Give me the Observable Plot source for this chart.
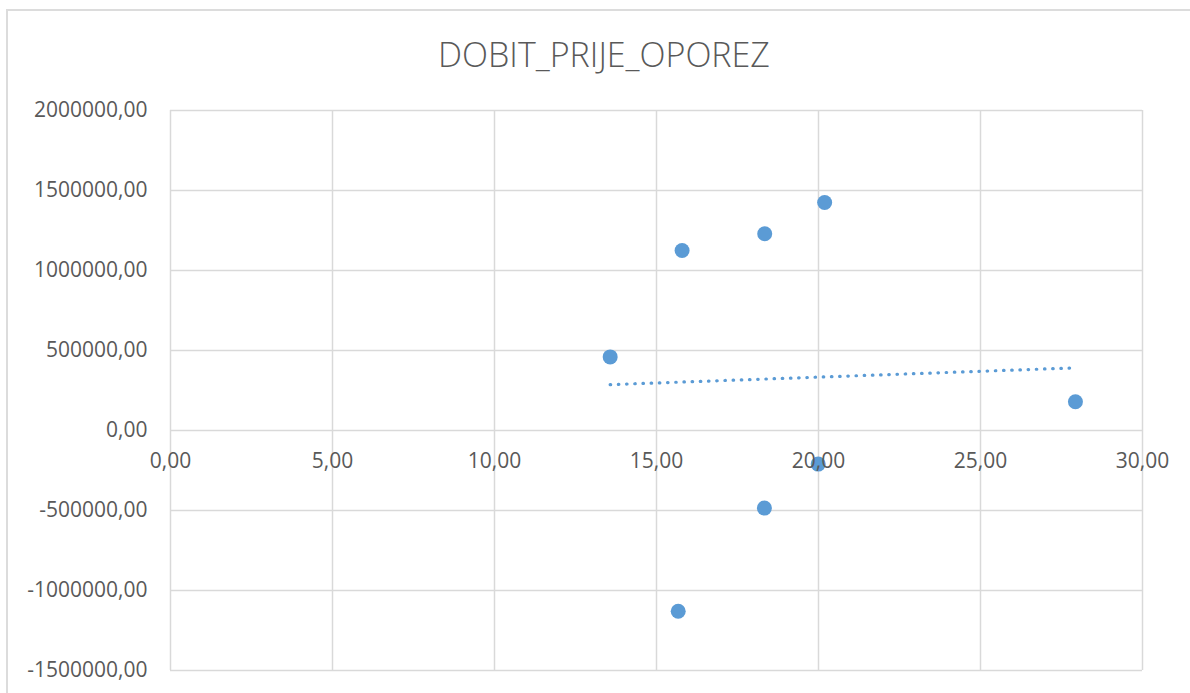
<!DOCTYPE html>
<html>
<head>
<meta charset="utf-8">
<script src="https://cdn.jsdelivr.net/npm/d3@7"></script>
<script src="https://cdn.jsdelivr.net/npm/@observablehq/plot@0.6"></script>
<style>
  html, body { margin: 0; padding: 0; background: #fff; overflow: hidden; }
  #frame {
    margin: 9px 0 0 6px;
    border-left: 2px solid #dcdcdc;
    border-top: 2px solid #dcdcdc;
    width: 1182px;
  }
  #title {
    height: 79px;
    box-sizing: border-box;
    padding-top: 8px;
    padding-left: 10px;
    line-height: 70px;
    text-align: center;
    font-family: "Open Sans", sans-serif;
    font-weight: 300;
    font-size: 34px;
    color: #595959;
  }
  #chart svg { display: block; overflow: visible; }
</style>
</head>
<body>
<div id="frame">
  <div id="title">DOBIT_PRIJE_OPOREZ</div>
  <div id="chart"></div>
</div>
<script>
// Data
const xValues = [13.57, 15.79, 18.34, 20.19, 27.93, 19.99, 18.33, 15.67];
const yValues = [460000, 1125000, 1230000, 1425000, 180000, -210000, -485000, -1130000];

// Axis ticks
const xTicks = [0, 5, 10, 15, 20, 25, 30];
const yTicks = [-1500000, -1000000, -500000, 0, 500000, 1000000, 1500000, 2000000];

const points = xValues.map((x, i) => ({x, y: yValues[i]}));
const fmt = d => d.toFixed(2).replace(".", ",");

const blue = "#5B9BD5";
const grid = "#d9d9d9";
const font = "'Open Sans', sans-serif";

const chart = Plot.plot({
  width: 1182,
  height: 603,
  marginLeft: 162,
  marginRight: 48,
  marginTop: 20,
  marginBottom: 23,
  style: {fontFamily: font, fontSize: "21px", color: "#595959", background: "transparent", overflow: "visible"},
  x: {domain: [0, 30], axis: null},
  y: {domain: [-1500000, 2000000], axis: null},
  marks: [
    Plot.gridX(xTicks, {stroke: grid, strokeOpacity: 1, strokeWidth: 1.5}),
    Plot.gridY(yTicks, {stroke: grid, strokeOpacity: 1, strokeWidth: 1.5}),
    Plot.axisY(yTicks, {tickSize: 0, tickPadding: 23, tickFormat: fmt, fontSize: 21, fill: "#595959", label: null}),
    Plot.linearRegressionY(points, {x: "x", y: "y", ci: 0, stroke: blue, strokeWidth: 3.2,
      strokeDasharray: "0.5 7.7", strokeLinecap: "round"}),
    Plot.dot(points, {x: "x", y: "y", r: 7.5, fill: blue, stroke: "none"}),
    Plot.text(xTicks, {x: d => d, y: 0, dy: 31, text: fmt, fontSize: 21, fill: "#595959"})
  ]
});
document.getElementById("chart").appendChild(chart);
</script>
</body>
</html>
